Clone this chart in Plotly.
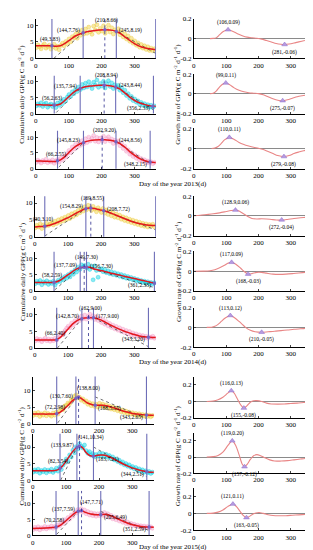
import plotly.graph_objects as go

# ---------------- DATA ----------------
DAYS = [1,6,11,16,21,26,31,36,41,46,51,56,61,66,71,76,81,86,91,96,
        101,106,111,116,121,126,131,136,141,146,151,156,161,166,171,176,181,186,191,196,
        201,206,211,216,221,226,231,236,241,246,251,256,261,266,271,276,281,286,291,296,
        301,306,311,316,321,326,331,336,341,346,351,356,361]

# daily GPP observations (sampled every 5 days)
GPP_2013_A = [3.2,4.1,3.5,2.9,3.9,4.4,3.1,3.6,4.0,2.8, 3.5,4.3,3.0,3.7,2.6,3.9,4.6,3.8,5.1,4.4,
              5.9,5.0,6.6,6.2,7.3,6.1,7.9,7.0,8.6,7.4, 8.9,7.6,9.5,8.1,7.3,9.8,8.6,10.2,7.9,9.1,
              8.3,9.9,7.6,8.8,10.1,8.0,9.3,7.4,8.7,8.1, 9.0,7.2,8.1,6.5,7.4,5.9,6.8,5.2,6.1,4.6,
              5.3,4.0,4.7,3.4,4.2,3.1,3.8,2.7,3.5,2.4, 3.1,2.3,2.9]
GPP_2013_B = [2.4,3.1,2.6,3.4,2.2,2.9,3.3,2.0,2.7,3.0, 2.2,2.8,1.9,3.3,2.6,3.9,3.1,4.5,4.0,5.2,
              6.0,5.4,6.9,6.3,7.6,7.0,8.4,7.6,9.2,8.1, 9.6,8.4,10.1,8.9,7.9,9.9,9.0,10.6,8.3,9.5,
              8.7,10.2,8.1,9.4,10.4,8.6,9.7,7.9,9.1,8.3, 8.9,7.4,8.2,6.6,7.4,5.7,6.3,4.8,5.4,4.1,
              4.6,3.6,4.0,2.9,3.5,2.6,3.1,2.2,2.8,2.0, 2.6,1.9,2.4]
GPP_2013_C = [2.0,2.7,2.3,1.8,2.6,2.2,3.0,1.9,2.5,2.1, 2.8,1.7,2.4,2.9,2.1,3.3,2.8,4.0,3.6,4.8,
              5.8,5.1,6.9,6.2,7.7,6.8,8.3,7.4,8.9,7.9, 9.5,8.3,10.0,8.8,9.6,10.5,8.7,9.9,8.5,9.7,
              9.0,10.3,8.6,9.5,10.1,8.8,9.4,8.0,9.0,8.2, 8.8,7.3,8.1,6.4,7.1,5.5,6.0,4.6,5.1,3.9,
              4.4,3.3,3.8,2.7,3.2,2.3,2.8,1.9,2.4,1.8, 2.2,1.6,2.0]
GPP_2014_A = [2.6,3.4,2.9,3.8,2.4,3.5,3.1,4.0,3.3,3.7, 4.2,3.5,4.6,3.9,5.0,4.3,5.4,4.7,5.8,5.1,
              6.3,5.4,6.8,6.0,7.2,6.5,7.8,7.1,8.4,7.6, 8.9,8.0,9.3,8.4,7.8,9.0,8.2,7.4,8.6,7.9,
              7.2,8.4,7.0,7.9,6.6,7.5,6.2,7.1,5.8,6.7, 5.6,6.4,5.2,5.9,4.8,5.6,4.5,5.2,4.2,4.9,
              3.9,4.6,3.6,4.3,3.3,4.0,3.1,3.8,2.9,3.6, 3.2,3.7,2.9]
GPP_2014_B = [2.2,3.0,2.5,3.2,1.9,2.8,2.4,3.1,2.0,2.7, 2.3,3.0,1.8,2.6,3.3,2.9,3.8,3.4,4.4,3.9,
              5.0,4.3,5.7,5.1,6.4,5.8,7.3,6.6,8.0,7.4, 7.8,7.0,8.2,6.6,7.5,3.4,7.7,6.3,4.2,6.5,
              6.8,5.9,6.6,5.6,6.2,5.3,5.9,5.0,5.6,4.8, 5.3,4.5,5.0,4.2,4.7,3.9,4.4,3.7,4.1,3.4,
              3.8,3.1,3.5,2.9,3.2,2.6,3.0,2.4,2.8,2.2, 2.6,2.1,2.5]
GPP_2014_C = [2.1,2.8,2.3,2.6,1.9,2.5,2.9,2.2,2.7,2.0, 2.6,2.2,2.9,2.4,3.1,3.6,4.4,4.0,5.2,5.9,
              6.5,6.0,7.4,6.8,8.1,7.6,8.9,8.2,9.5,8.7, 9.8,8.6,9.4,10.1,8.9,9.6,8.5,9.3,8.2,8.9,
              7.6,8.4,7.1,7.8,6.6,7.3,6.1,6.8,5.7,6.4, 5.3,6.0,4.9,5.6,4.6,5.2,4.2,4.9,3.9,4.5,
              3.7,4.2,3.4,3.9,3.2,3.7,3.0,3.5,2.9,3.3, 3.1,3.5,2.9]
GPP_2015_A = [2.5,3.2,2.7,3.4,2.2,3.0,2.6,3.3,2.4,3.1, 2.7,2.3,3.2,2.6,3.5,2.9,3.8,4.5,4.2,5.3,
              5.5,6.2,6.0,7.1,7.3,8.2,8.6,7.7,7.9,7.0, 7.4,6.5,6.8,5.8,6.3,5.4,6.0,5.2,5.8,5.0,
              6.1,5.3,5.9,5.0,5.6,4.7,5.3,4.4,5.0,4.2, 4.7,3.9,4.4,3.6,4.1,3.3,3.8,3.1,3.5,2.9,
              3.3,2.7,3.1,2.5,3.0,2.4,2.8,2.3,2.7,2.2, 2.6,2.1,2.5]
GPP_2015_B = [2.4,3.1,2.6,3.3,2.1,2.9,2.5,3.2,2.2,3.0, 2.6,3.3,2.3,2.9,3.6,2.7,3.9,3.2,4.5,5.3,
              6.4,5.8,7.6,7.0,9.0,8.3,10.1,9.4,11.0,10.2, 9.7,10.6,8.9,8.1,8.6,7.5,8.0,7.0,7.7,7.2,
              8.1,7.3,8.0,7.1,7.8,6.9,7.4,6.5,7.0,6.1, 6.4,5.6,6.0,5.1,5.5,4.6,5.0,4.2,4.6,3.8,
              4.1,3.4,3.8,3.0,3.4,2.7,3.1,2.4,2.8,2.2, 2.6,2.0,2.4]
GPP_2015_C = [1.8,2.5,2.0,2.7,1.7,2.4,2.1,2.8,2.0,2.6, 2.3,2.9,2.2,2.8,2.5,3.3,3.0,4.1,3.7,4.9,
              4.4,5.6,5.1,6.4,6.0,7.2,7.0,8.1,7.6,8.4, 7.3,8.0,6.8,7.5,6.4,7.1,6.2,6.9,6.0,6.8,
              6.2,7.0,6.3,7.2,6.1,6.8,5.6,6.3,5.2,5.8, 4.9,5.5,4.5,5.0,4.1,4.6,3.7,4.2,3.4,3.8,
              3.1,3.5,2.9,3.2,2.7,3.0,2.5,2.9,2.4,2.8, 2.3,2.7,2.2]

# fitted curves
FIT_DAYS_STD = [0,15,30,45,60,75,90,105,120,135,150,165,180,195,210,225,240,255,270,285,300,315,330,345,360,365]
FIT_2013_A = [3.8,3.8,3.8,3.8,3.7,3.8,4.6,5.7,6.8,7.45,7.95,8.25,8.5,8.6,8.66,8.6,8.35,7.7,6.6,5.5,4.5,3.7,3.2,2.9,2.7,2.65]
FIT_2013_B = [2.8,2.75,2.7,2.65,2.6,3.0,4.3,5.8,7.1,7.94,8.5,8.75,8.85,8.92,8.94,8.8,8.5,7.8,6.6,5.3,4.2,3.4,2.9,2.5,2.3,2.3]
FIT_2013_C = [2.4,2.4,2.35,2.3,2.3,2.8,4.0,5.6,7.0,7.9,8.5,8.9,9.1,9.2,9.18,9.0,8.7,8.0,6.9,5.5,4.3,3.3,2.6,2.2,2.0,2.0]
FIT_2014_A = [2.9,3.0,3.1,3.4,3.9,4.5,5.2,5.9,6.7,7.5,8.2,8.55,8.35,8.0,7.7,7.2,6.6,6.0,5.4,4.8,4.3,3.9,3.6,3.4,3.3,3.3]
FIT_2014_B = [2.6,2.6,2.6,2.6,2.65,3.2,4.2,5.3,6.4,7.1,7.3,7.25,6.75,6.35,6.0,5.6,5.25,4.9,4.5,4.15,3.8,3.45,3.1,2.75,2.4,2.3]
FIT_2014_C = [2.4,2.4,2.4,2.4,2.4,3.0,4.5,6.2,7.6,8.5,8.9,9.0,8.95,8.5,7.8,7.0,6.3,5.6,5.0,4.5,4.0,3.6,3.35,3.2,3.1,3.1]
FIT_DAYS_2015_A = [0,15,30,45,60,75,90,105,120,130,138,150,165,180,188,195,210,225,240,255,270,285,300,315,330,343,365]
FIT_2015_A = [2.9,2.9,2.9,2.9,2.95,3.1,4.0,5.4,6.9,7.6,8.0,7.3,6.2,5.7,5.55,5.5,5.5,5.3,4.9,4.4,3.9,3.5,3.1,2.9,2.75,2.65,2.6]
FIT_DAYS_2015_B = [0,20,40,60,75,82,90,105,120,133,141,150,160,170,183,195,210,225,240,255,270,285,300,315,330,344,355,365]
FIT_2015_B = [2.8,2.8,2.8,2.85,3.1,3.54,4.3,6.4,8.6,9.87,10.34,9.8,8.4,7.5,7.21,7.5,7.6,7.3,6.6,5.8,5.0,4.3,3.7,3.2,2.8,2.51,2.4,2.35]
FIT_DAYS_2015_C = [0,20,40,60,70,85,100,115,130,137,147,160,175,190,205,220,235,250,265,280,295,310,325,340,351,365]
FIT_2015_C = [2.1,2.2,2.3,2.45,2.58,3.3,4.6,6.0,7.2,7.59,7.71,7.2,6.7,6.5,6.49,6.6,6.2,5.5,4.8,4.1,3.5,3.1,2.8,2.65,2.59,2.5]

# key (transition) points and their labels
KEY_DAYS_2013_A = [49,144,210,245];      KEY_VALS_2013_A = [3.83,7.76,8.66,8.19]
KEY_DAYS_2013_B = [56,135,208,243,356];  KEY_VALS_2013_B = [2.63,7.94,8.94,8.44,2.33]
KEY_DAYS_2013_C = [66,145,202,244,348];  KEY_VALS_2013_C = [2.55,8.23,9.20,8.56,2.15]
KEY_DAYS_2014_A = [30,154,169,208];      KEY_VALS_2014_A = [3.10,8.29,8.55,7.72]
KEY_DAYS_2014_B = [58,137,149,156,361];  KEY_VALS_2014_B = [2.59,7.09,7.30,7.30,2.33]
KEY_DAYS_2014_C = [66,142,162,177,343];  KEY_VALS_2014_C = [2.40,8.70,9.00,9.00,3.20]
KEY_DAYS_2015_A = [72,130,138,188,343];  KEY_VALS_2015_A = [2.98,7.60,8.00,5.55,2.65]
KEY_DAYS_2015_B = [82,133,141,183,344];  KEY_VALS_2015_B = [3.54,9.87,10.34,7.21,2.51]
KEY_DAYS_2015_C = [70,137,147,205,351];  KEY_VALS_2015_C = [2.58,7.59,7.71,6.49,2.59]

# vertical marker lines (solid) and peak line (dotted)
VL_2013_A = [49,144,245,365]; VD_2013_A = 210
VL_2013_B = [56,135,243,358]; VD_2013_B = 208
VL_2013_C = [66,145,244,348]; VD_2013_C = 202
VL_2014_A = [30,154,208,365]; VD_2014_A = 169
VL_2014_B = [58,137,156,361]; VD_2014_B = 149
VL_2014_C = [66,142,177,343]; VD_2014_C = 162
VL_2015_A = [72,130,188,343]; VD_2015_A = 138
VL_2015_B = [82,133,183,344]; VD_2015_B = 141
VL_2015_C = [70,137,205,351]; VD_2015_C = 147

# tangent (dotted) lines: [x0, x1], [y0, y1] for rising and falling parts
TAN_UP_2013_A = ([55,144],[0.0,7.76]);  TAN_DN_2013_A = ([245,365],[8.19,1.5])
TAN_UP_2013_B = ([62,135],[0.3,7.94]);  TAN_DN_2013_B = ([243,358],[8.44,1.2])
TAN_UP_2013_C = ([70,145],[0.5,8.23]);  TAN_DN_2013_C = ([244,348],[8.56,1.6])
TAN_UP_2014_A = ([30,154],[0.2,8.29]);  TAN_DN_2014_A = ([208,365],[7.72,2.0])
TAN_UP_2014_B = ([60,137],[0.3,7.09]);  TAN_DN_2014_B = ([156,361],[7.30,1.0])
TAN_UP_2014_C = ([68,142],[0.0,8.70]);  TAN_DN_2014_C = ([177,345],[9.00,0.3])
TAN_UP_2015_A = ([75,130],[0.3,7.60]);  TAN_DN_2015_A = ([188,343],[8.0,1.6])
TAN_UP_2015_B = ([84,133],[0.0,9.87]);  TAN_DN_2015_B = ([183,344],[10.0,1.0])
TAN_UP_2015_C = ([72,137],[0.3,7.59]);  TAN_DN_2015_C = ([205,351],[7.5,1.5])

# growth-rate curves
RATE_DAYS_2013_A = [50,60,70,80,90,106,120,135,150,165,180,195,210,225,240,255,270,281,295,310,325,340,355,365]
RATE_2013_A = [0,0.002,0.01,0.04,0.07,0.09,0.075,0.05,0.03,0.015,0.008,0.003,-0.005,-0.02,-0.035,-0.05,-0.058,-0.06,-0.055,-0.045,-0.033,-0.022,-0.013,-0.008]
RATE_DAYS_2013_B = [50,60,70,80,90,99,110,125,140,155,170,185,200,215,230,245,260,275,290,305,320,335,350,365]
RATE_2013_B = [0,0.005,0.03,0.07,0.1,0.11,0.095,0.06,0.035,0.02,0.01,0.006,0.002,-0.01,-0.03,-0.05,-0.065,-0.07,-0.06,-0.045,-0.03,-0.02,-0.012,-0.007]
RATE_DAYS_2013_C = [55,65,75,85,95,110,125,140,155,170,185,200,215,230,245,260,279,295,310,325,340,355,365]
RATE_2013_C = [0,0.005,0.02,0.05,0.085,0.11,0.09,0.06,0.04,0.025,0.012,0.003,-0.01,-0.03,-0.05,-0.07,-0.08,-0.07,-0.05,-0.035,-0.022,-0.012,-0.008]
RATE_DAYS_2014_A = [0,20,40,60,80,100,115,129,140,150,160,170,180,195,210,225,240,255,272,290,310,330,350,365]
RATE_2014_A = [0.003,0.008,0.015,0.022,0.032,0.045,0.055,0.06,0.05,0.03,0.01,-0.01,-0.025,-0.03,-0.028,-0.03,-0.035,-0.04,-0.042,-0.035,-0.025,-0.018,-0.012,-0.008]
RATE_DAYS_2014_B = [0,30,50,65,80,95,105,117,130,145,155,168,180,195,210,225,245,265,285,305,325,345,365]
RATE_2014_B = [0,0.001,0.005,0.015,0.035,0.06,0.08,0.09,0.07,0.03,0.0,-0.03,-0.025,-0.012,-0.012,-0.02,-0.03,-0.032,-0.03,-0.025,-0.018,-0.012,-0.008]
RATE_DAYS_2014_C = [40,55,65,75,85,95,105,113,125,140,150,160,175,190,210,230,250,270,290,310,330,350,365]
RATE_2014_C = [0,0.001,0.01,0.03,0.06,0.09,0.11,0.12,0.1,0.06,0.03,0.0,-0.03,-0.045,-0.05,-0.045,-0.04,-0.033,-0.027,-0.02,-0.015,-0.01,-0.007]
RATE_DAYS_2015_A = [40,60,75,90,105,116,125,135,145,155,165,175,185,195,210,225,240,260,280,300,320,340,365]
RATE_2015_A = [0,0.005,0.02,0.05,0.1,0.13,0.1,0.03,-0.04,-0.08,-0.05,-0.01,0.008,0.01,0.0,-0.02,-0.03,-0.032,-0.03,-0.025,-0.02,-0.013,-0.005]
RATE_DAYS_2015_B = [40,60,75,90,105,119,130,140,150,157,165,175,185,195,205,220,235,250,270,290,310,330,350,365]
RATE_2015_B = [0,0.005,0.02,0.06,0.14,0.2,0.14,0.03,-0.09,-0.12,-0.09,-0.03,0.015,0.03,0.02,-0.01,-0.035,-0.05,-0.05,-0.045,-0.035,-0.025,-0.015,-0.01]
RATE_DAYS_2015_C = [40,60,75,90,105,121,132,142,152,163,172,182,192,202,215,230,245,265,285,305,325,345,365]
RATE_2015_C = [0,0.003,0.015,0.04,0.08,0.11,0.08,0.03,-0.02,-0.05,-0.035,-0.01,0.005,0.01,0.0,-0.015,-0.025,-0.028,-0.027,-0.022,-0.017,-0.012,-0.008]

# growth-rate extremes: (max day, max value, min day, min value)
EXT_2013_A = (106,0.09,281,-0.06)
EXT_2013_B = (99,0.11,275,-0.07)
EXT_2013_C = (110,0.11,279,-0.08)
EXT_2014_A = (128.9,0.06,272,-0.04)
EXT_2014_B = (117,0.09,168,-0.03)
EXT_2014_C = (113,0.12,210,-0.05)
EXT_2015_A = (116,0.13,155,-0.08)
EXT_2015_B = (119,0.20,157,-0.12)
EXT_2015_C = (121,0.11,163,-0.05)

YEARS = ["2013", "2014", "2015"]
X_TICKS = [0, 100, 200, 300]

# ---------------- STYLE / LAYOUT ----------------
W, H = 313, 550
FONT = "Liberation Serif"
SCAT_FILL = ["rgba(242,210,70,0.5)", "rgba(20,215,232,0.5)", "rgba(246,158,200,0.45)"]
SCAT_EDGE = ["rgba(232,196,40,0.85)", "rgba(0,200,222,0.85)", "rgba(238,140,188,0.8)"]

# pixel boxes (left, right) / (top, bottom)
LEFT_X = [(26, 147), (25, 147), (23, 145)]
RIGHT_X = [(185, 304), (185, 304), (185, 304)]
LEFT_Y = [[(7, 47), (64.6, 103), (120.6, 159)],
          [(187, 228), (243.4, 283), (300, 341)],
          [(370, 418), (428, 475), (486, 531)]]
RIGHT_Y = [[(7, 47), (63, 103), (118, 159)],
           [(187, 227), (243, 283), (300, 340)],
           [(370, 412), (427, 468), (483, 526)]]
LEFT_RANGE = [[0, 12], [0, 12], [0, 14]]
RIGHT_RANGE = [[-0.2, 0.2], [-0.2, 0.2], [-0.2, 0.3]]

panels = [
    (GPP_2013_A, FIT_DAYS_STD, FIT_2013_A, KEY_DAYS_2013_A, KEY_VALS_2013_A, VL_2013_A, VD_2013_A, TAN_UP_2013_A, TAN_DN_2013_A, RATE_DAYS_2013_A, RATE_2013_A, EXT_2013_A),
    (GPP_2013_B, FIT_DAYS_STD, FIT_2013_B, KEY_DAYS_2013_B, KEY_VALS_2013_B, VL_2013_B, VD_2013_B, TAN_UP_2013_B, TAN_DN_2013_B, RATE_DAYS_2013_B, RATE_2013_B, EXT_2013_B),
    (GPP_2013_C, FIT_DAYS_STD, FIT_2013_C, KEY_DAYS_2013_C, KEY_VALS_2013_C, VL_2013_C, VD_2013_C, TAN_UP_2013_C, TAN_DN_2013_C, RATE_DAYS_2013_C, RATE_2013_C, EXT_2013_C),
    (GPP_2014_A, FIT_DAYS_STD, FIT_2014_A, KEY_DAYS_2014_A, KEY_VALS_2014_A, VL_2014_A, VD_2014_A, TAN_UP_2014_A, TAN_DN_2014_A, RATE_DAYS_2014_A, RATE_2014_A, EXT_2014_A),
    (GPP_2014_B, FIT_DAYS_STD, FIT_2014_B, KEY_DAYS_2014_B, KEY_VALS_2014_B, VL_2014_B, VD_2014_B, TAN_UP_2014_B, TAN_DN_2014_B, RATE_DAYS_2014_B, RATE_2014_B, EXT_2014_B),
    (GPP_2014_C, FIT_DAYS_STD, FIT_2014_C, KEY_DAYS_2014_C, KEY_VALS_2014_C, VL_2014_C, VD_2014_C, TAN_UP_2014_C, TAN_DN_2014_C, RATE_DAYS_2014_C, RATE_2014_C, EXT_2014_C),
    (GPP_2015_A, FIT_DAYS_2015_A, FIT_2015_A, KEY_DAYS_2015_A, KEY_VALS_2015_A, VL_2015_A, VD_2015_A, TAN_UP_2015_A, TAN_DN_2015_A, RATE_DAYS_2015_A, RATE_2015_A, EXT_2015_A),
    (GPP_2015_B, FIT_DAYS_2015_B, FIT_2015_B, KEY_DAYS_2015_B, KEY_VALS_2015_B, VL_2015_B, VD_2015_B, TAN_UP_2015_B, TAN_DN_2015_B, RATE_DAYS_2015_B, RATE_2015_B, EXT_2015_B),
    (GPP_2015_C, FIT_DAYS_2015_C, FIT_2015_C, KEY_DAYS_2015_C, KEY_VALS_2015_C, VL_2015_C, VD_2015_C, TAN_UP_2015_C, TAN_DN_2015_C, RATE_DAYS_2015_C, RATE_2015_C, EXT_2015_C),
]

def fmt(v):
    return "%g" % v

fig = go.Figure()
layout = {}
shapes = []
annotations = []
tickfont = dict(family=FONT, size=7, color="black")
labfont = dict(family=FONT, size=5.5, color="black")

for i, (gpp, fd, fv, kd, kv, vl, vd, tu, tdn, rd, rv, ext) in enumerate(panels):
    g, r = divmod(i, 3)
    for side in (0, 1):
        n = 2 * i + 1 + side
        xa = "xaxis" if n == 1 else f"xaxis{n}"
        ya = "yaxis" if n == 1 else f"yaxis{n}"
        xr = "x" if n == 1 else f"x{n}"
        yr = "y" if n == 1 else f"y{n}"
        xpx = LEFT_X[g] if side == 0 else RIGHT_X[g]
        ypx = LEFT_Y[g][r] if side == 0 else RIGHT_Y[g][r]
        layout[xa] = dict(domain=[xpx[0] / W, xpx[1] / W], range=[0, 366], anchor=yr,
                          tickvals=X_TICKS, ticks="inside", ticklen=2, tickwidth=0.6,
                          showline=True, linecolor="black", linewidth=0.7,
                          showgrid=False, zeroline=False, tickfont=tickfont)
        yd = dict(domain=[1 - ypx[1] / H, 1 - ypx[0] / H], anchor=xr,
                  ticks="inside", ticklen=2, tickwidth=0.6,
                  showline=True, linecolor="black", linewidth=0.7,
                  showgrid=False, tickfont=tickfont)
        if side == 0:
            yd.update(range=LEFT_RANGE[g], tickvals=[0, 5, 10], zeroline=False)
        else:
            yd.update(range=RIGHT_RANGE[g], tickvals=[-0.2, 0, 0.2],
                      ticktext=["-0.2", "0", "0.2"], zeroline=True,
                      zerolinecolor="#8a8a8a", zerolinewidth=1.4)
        layout[ya] = yd

        if side == 0:
            for d in vl:
                shapes.append(dict(type="line", xref=xr, yref=yr + " domain", x0=d, x1=d, y0=0, y1=1,
                                   line=dict(color="#6E6EB8", width=1.1), layer="above"))
            shapes.append(dict(type="line", xref=xr, yref=yr + " domain", x0=vd, x1=vd, y0=0, y1=1,
                               line=dict(color="#2B2B8C", width=0.8, dash="dot"), layer="above"))
            fig.add_trace(go.Scatter(x=DAYS, y=gpp, mode="markers", xaxis=xr, yaxis=yr,
                                     marker=dict(size=4, color=SCAT_FILL[r],
                                                 line=dict(width=0.4, color=SCAT_EDGE[r]))))
            for seg in (tu, tdn):
                fig.add_trace(go.Scatter(x=seg[0], y=seg[1], mode="lines", xaxis=xr, yaxis=yr,
                                         line=dict(color="#333333", width=0.7, dash="dot")))
            fig.add_trace(go.Scatter(x=fd, y=fv, mode="lines", xaxis=xr, yaxis=yr,
                                     line=dict(color="#E3171E", width=1.5, shape="spline", smoothing=0.8)))
            fig.add_trace(go.Scatter(x=kd, y=kv, mode="markers", xaxis=xr, yaxis=yr,
                                     marker=dict(size=3.5, color="#7B5FC8")))
            for j, (d, v) in enumerate(zip(kd, kv)):
                txt = "(%s,%.2f)" % (fmt(d), v)
                if j == 0:
                    xa_, ya_, xs, ys = "center", "bottom", -2, 1
                elif j == 1:
                    xa_, ya_, xs, ys = "right", "middle", -1, 2
                elif j == 2:
                    if g == 2:
                        xa_, ya_, xs, ys = "left", "bottom", -4, 3
                    else:
                        xa_, ya_, xs, ys = "center", "bottom", 2, 4
                elif j == 3:
                    xa_, ya_, xs, ys = "left", "middle", 1, 1 if g < 2 else -3
                else:
                    xa_, ya_, xs, ys = "right", "top", -1, 3
                annotations.append(dict(xref=xr, yref=yr, x=d, y=v, text=txt, showarrow=False,
                                        xanchor=xa_, yanchor=ya_, xshift=xs, yshift=ys, font=labfont))
        else:
            fig.add_trace(go.Scatter(x=rd, y=rv, mode="lines", xaxis=xr, yaxis=yr,
                                     line=dict(color="#E98686", width=1.1, shape="spline", smoothing=0.8)))
            fig.add_trace(go.Scatter(x=[ext[0], ext[2]], y=[ext[1], ext[3]], mode="markers",
                                     xaxis=xr, yaxis=yr,
                                     marker=dict(symbol="triangle-up", size=5, color="#B59BE0",
                                                 line=dict(width=0.5, color="#8E6CCB"))))
            annotations.append(dict(xref=xr, yref=yr, x=ext[0], y=ext[1],
                                    text="(%s,%.2f)" % (fmt(ext[0]), ext[1]),
                                    showarrow=False, xanchor="center", yanchor="bottom", yshift=2, font=labfont))
            annotations.append(dict(xref=xr, yref=yr, x=ext[2], y=ext[3],
                                    text="(%s,%.2f)" % (fmt(ext[2]), ext[3]),
                                    showarrow=False, xanchor="center", yanchor="top", yshift=-2, font=labfont))

# axis titles per year group
TITLE_Y = [83, 263, 450]
XTITLE_Y = [175, 355, 543]
titlefont = dict(family=FONT, size=7, color="black")
for g, yr_ in enumerate(YEARS):
    annotations.append(dict(xref="paper", yref="paper", x=12 / W, y=1 - TITLE_Y[g] / H,
                            text="Cumulative daily GPP(g C m<sup>-2</sup> d<sup>-1</sup>)",
                            textangle=-90, showarrow=False, xanchor="center", yanchor="middle", font=titlefont))
    annotations.append(dict(xref="paper", yref="paper", x=169 / W, y=1 - TITLE_Y[g] / H,
                            text="Growth rate of GPP(g C m<sup>-2</sup> d<sup>-1</sup> d<sup>-1</sup>)",
                            textangle=-90, showarrow=False, xanchor="center", yanchor="middle", font=titlefont))
    annotations.append(dict(xref="paper", yref="paper", x=164 / W, y=1 - XTITLE_Y[g] / H,
                            text="Day of the year %s(d)" % yr_, showarrow=False,
                            xanchor="center", yanchor="middle", font=titlefont))

fig.update_layout(width=W, height=H, margin=dict(l=0, r=0, t=0, b=0),
                  paper_bgcolor="white", plot_bgcolor="white", showlegend=False,
                  shapes=shapes, annotations=annotations, font=dict(family=FONT), **layout)
fig.write_html("out.html")
